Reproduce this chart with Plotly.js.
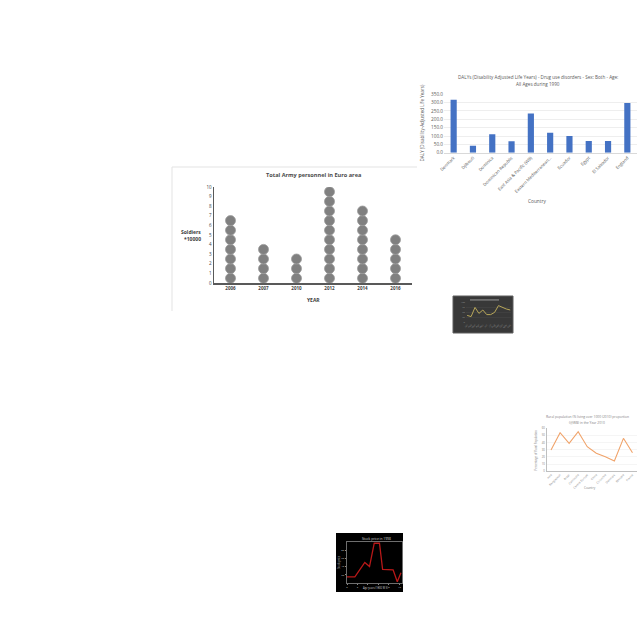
<!DOCTYPE html>
<html><head><meta charset="utf-8">
<script src="https://cdn.plot.ly/plotly-3.0.1.min.js"></script>
<style>html,body{margin:0;padding:0;background:#fff}#c{width:640px;height:640px}</style>
</head><body><div id="c"></div>
<script>
// ---- Chart 1: Total Army personnel in Euro area (pictograph) ----
const armyYears = ['2006', '2007', '2010', '2012', '2014', '2016'];
const armySoldiers = [7, 4, 3, 10, 8, 5];
const armyTicks = [0, 1, 2, 3, 4, 5, 6, 7, 8, 9, 10];

// ---- Chart 2: DALYs bar chart ----
const dalyCountries = ['Denmark', 'Djibouti', 'Dominica', 'Dominican Republic', 'East Asia & Pacific (WB)',
  'Eastern Mediterranean...', 'Ecuador', 'Egypt', 'El Salvador', 'England'];
const dalyValues = [318, 42, 110, 68, 235, 120, 100, 70, 70, 298];
const dalyTicks = [0, 50, 100, 150, 200, 250, 300, 350];

// ---- Chart 3: small dark line chart ----
const darkLabels = ['Jan', 'Feb', 'Mar', 'Apr', 'May', 'Jun', 'Jul', 'Aug', 'Sep', 'Oct', 'Nov', 'Dec'];
const darkValues = [33, 27, 73, 43, 60, 37, 37, 48, 82, 73, 65, 60];

// ---- Chart 4: rural population line chart ----
const ruralCountries = ['Asia', 'Bangladesh', 'Brazil', 'Cambodia', 'Central Europe', 'China', 'Colombia', 'Denmark', 'Ethiopia', 'France'];
const ruralValues = [29.7, 53.8, 39, 55.2, 34.3, 25.1, 20.4, 14.4, 46, 26];
const ruralTicks = [0, 10, 20, 30, 40, 50, 60];

// ---- Chart 5: black stock chart ----
const stockX = [0, 1.5, 3.4, 4.3, 5.2, 6.2, 6.8, 8.2, 8.8, 9.6, 10.3];
const stockY = [15, 15, 50, 40, 97, 97, 33, 33, 32, 3, 25];
const stockXTicks = [0, 2, 4, 6, 8, 10];
const stockYTicks = [20, 40, 60, 80];

const PX = x => x / 640;
const PY = y => 1 - y / 640;
const FONT = 'Open Sans, Liberation Sans, sans-serif';

// build pictograph points from counts
const dotX = [], dotY = [];
armyYears.forEach((yr, i) => {
  for (let k = 0; k < armySoldiers[i]; k++) { dotX.push(yr); dotY.push(k + 0.5); }
});

const traces = [
  {type: 'scatter', mode: 'markers', x: dotX, y: dotY, xaxis: 'x', yaxis: 'y',
   marker: {size: 10, color: '#808080', line: {color: '#9c9c9c', width: 0.8}}, hoverinfo: 'skip'},
  {type: 'bar', x: dalyCountries, y: dalyValues, xaxis: 'x2', yaxis: 'y2',
   marker: {color: '#4472c4'}},
  {type: 'scatter', mode: 'lines', x: darkLabels, y: darkValues, xaxis: 'x3', yaxis: 'y3',
   line: {color: '#b8a75a', width: 1}},
  {type: 'scatter', mode: 'lines', x: ruralCountries, y: ruralValues, xaxis: 'x4', yaxis: 'y4',
   line: {color: '#f0a36a', width: 1.1}},
  {type: 'scatter', mode: 'lines', x: stockX, y: stockY, xaxis: 'x5', yaxis: 'y5',
   line: {color: '#b81818', width: 1.3}}
];

const shapes = [
  // chart 1 panel borders
  {type: 'line', xref: 'paper', yref: 'paper', x0: PX(172), x1: PX(417), y0: PY(167), y1: PY(167), line: {color: '#e3e3e3', width: 1}, layer: 'below'},
  {type: 'line', xref: 'paper', yref: 'paper', x0: PX(172), x1: PX(172), y0: PY(167), y1: PY(311), line: {color: '#e3e3e3', width: 1}, layer: 'below'},
  // chart 3 dark panel
  {type: 'rect', xref: 'paper', yref: 'paper', x0: PX(453), x1: PX(513), y0: PY(296), y1: PY(333), fillcolor: '#383838', line: {color: '#5e5e5e', width: 1}, layer: 'below'},
  {type: 'rect', xref: 'paper', yref: 'paper', x0: PX(470), x1: PX(499), y0: PY(299), y1: PY(300.8), fillcolor: '#6e6e6e', line: {width: 0}, layer: 'below'},
  // chart 5 black panel
  {type: 'rect', xref: 'paper', yref: 'paper', x0: PX(336), x1: PX(403), y0: PY(533), y1: PY(592), fillcolor: '#000000', line: {width: 0}, layer: 'below'}
];

const ann = (text, x, y, size, color, opts) => Object.assign({
  text: text, xref: 'paper', yref: 'paper', x: PX(x), y: PY(y), showarrow: false,
  xanchor: 'center', yanchor: 'middle', font: {family: FONT, size: size, color: color}
}, opts || {});

const annotations = [
  ann('<b>Total Army personnel in Euro area</b>', 313, 175, 5.6, '#4a4a4a'),
  ann('<b>Soldiers</b>', 191, 232, 5, '#404040'),
  ann('<b>*10000</b>', 192, 239, 5, '#404040'),
  ann('<b>YEAR</b>', 313, 300, 5, '#404040'),
  ann('DALYs (Disability Adjusted Life Years) - Drug use disorders - Sex: Both - Age:', 538, 77, 4.6, '#595959'),
  ann('All Ages during 1990', 538, 84, 4.6, '#595959'),
  ann('DALY (Disability-Adjusted Life Years)', 421.5, 123, 4.6, '#595959', {textangle: -90}),
  ann('Country', 537, 201, 4.8, '#595959'),
  ann('Rural population (% living over 1000 (2010) proportion', 587, 416.5, 3.3, '#808080'),
  ann('(@WB) in the Year 2010', 587, 422.3, 3.3, '#808080'),
  ann('Percentage of Rural Population', 535.5, 450, 2.8, '#808080', {textangle: -90}),
  ann('Country', 590, 488, 3, '#808080'),
  ann('Stock price in 1998', 376, 538, 3.3, '#dddddd'),
  ann('Stock price', 339, 562, 2.6, '#cccccc', {textangle: -90}),
  ann('Age years (1000 M $)', 375, 587.5, 2.6, '#cccccc')
];

const layout = {
  width: 640, height: 640, margin: {l: 0, r: 0, t: 0, b: 0},
  paper_bgcolor: '#ffffff', plot_bgcolor: 'rgba(0,0,0,0)',
  showlegend: false, font: {family: FONT},
  bargap: 0.68,
  // chart 1
  xaxis: {domain: [PX(214), PX(412)], type: 'category', range: [-0.5, 5.5], anchor: 'y',
    showline: true, linecolor: '#595959', linewidth: 1.5, showgrid: false, zeroline: false, ticks: '',
    tickfont: {size: 4.5, color: '#404040', weight: 'bold'}, fixedrange: true},
  yaxis: {domain: [PY(283), PY(187)], range: [0, 10], anchor: 'x', tickvals: armyTicks,
    showline: true, linecolor: '#595959', linewidth: 1.5, showgrid: false, zeroline: false, ticks: '',
    tickfont: {size: 4.5, color: '#404040'}},
  // chart 2
  xaxis2: {domain: [PX(444), PX(637)], type: 'category', range: [-0.5, 9.5], anchor: 'y2', showline: true, linecolor: '#d9d9d9',
    showgrid: false, ticks: '', tickangle: -45, tickfont: {size: 4.3, color: '#595959'}},
  yaxis2: {domain: [PY(152.7), PY(94.3)], range: [0, 350], anchor: 'x2', tickvals: dalyTicks,
    tickformat: '.1f', showgrid: true, gridcolor: '#e3e3e3', gridwidth: 0.6, zeroline: false, ticks: '',
    showline: false, tickfont: {size: 4.7, color: '#595959'}},
  // chart 3
  xaxis3: {domain: [PX(466), PX(511)], type: 'category', anchor: 'y3', range: [-0.3, 11.2], showline: false,
    showgrid: false, ticks: '', tickangle: -45, tickfont: {size: 2.5, color: '#8a8a8a'}},
  yaxis3: {domain: [PY(322), PY(302)], range: [0, 100], anchor: 'x3', tickvals: [0, 25, 50, 75, 100],
    showgrid: true, gridcolor: '#474747', gridwidth: 0.5, zeroline: false, ticks: '', showline: false,
    tickfont: {size: 2.5, color: '#8a8a8a'}},
  // chart 4
  xaxis4: {domain: [PX(546.5), PX(637)], type: 'category', range: [-0.5, 9.5], anchor: 'y4', showline: true, linecolor: '#bfbfbf',
    showgrid: false, ticks: '', tickangle: -45, tickfont: {size: 2.8, color: '#808080'}},
  yaxis4: {domain: [PY(471.3), PY(428.3)], range: [0, 60], anchor: 'x4', tickvals: ruralTicks,
    showgrid: true, gridcolor: '#ececec', gridwidth: 0.5, zeroline: false, ticks: '', showline: true,
    linecolor: '#bfbfbf', tickfont: {size: 2.8, color: '#808080'}},
  // chart 5
  xaxis5: {domain: [PX(347), PX(402)], range: [0, 10.5], anchor: 'y5', showline: true, mirror: true,
    linecolor: '#8a8a8a', linewidth: 0.8, showgrid: false, zeroline: false, ticks: 'outside', ticklen: 1.5,
    tickcolor: '#8a8a8a', tickvals: stockXTicks, tickfont: {size: 2.5, color: '#cccccc'}},
  yaxis5: {domain: [PY(583), PY(542)], range: [0, 100], anchor: 'x5', showline: true, mirror: true,
    linecolor: '#8a8a8a', linewidth: 0.8, showgrid: false, zeroline: false, ticks: 'outside', ticklen: 1.5,
    tickcolor: '#8a8a8a', tickvals: stockYTicks, tickfont: {size: 2.5, color: '#cccccc'}},
  shapes: shapes,
  annotations: annotations
};

Plotly.newPlot('c', traces, layout, {staticPlot: true, displayModeBar: false});
</script>
</body></html>
